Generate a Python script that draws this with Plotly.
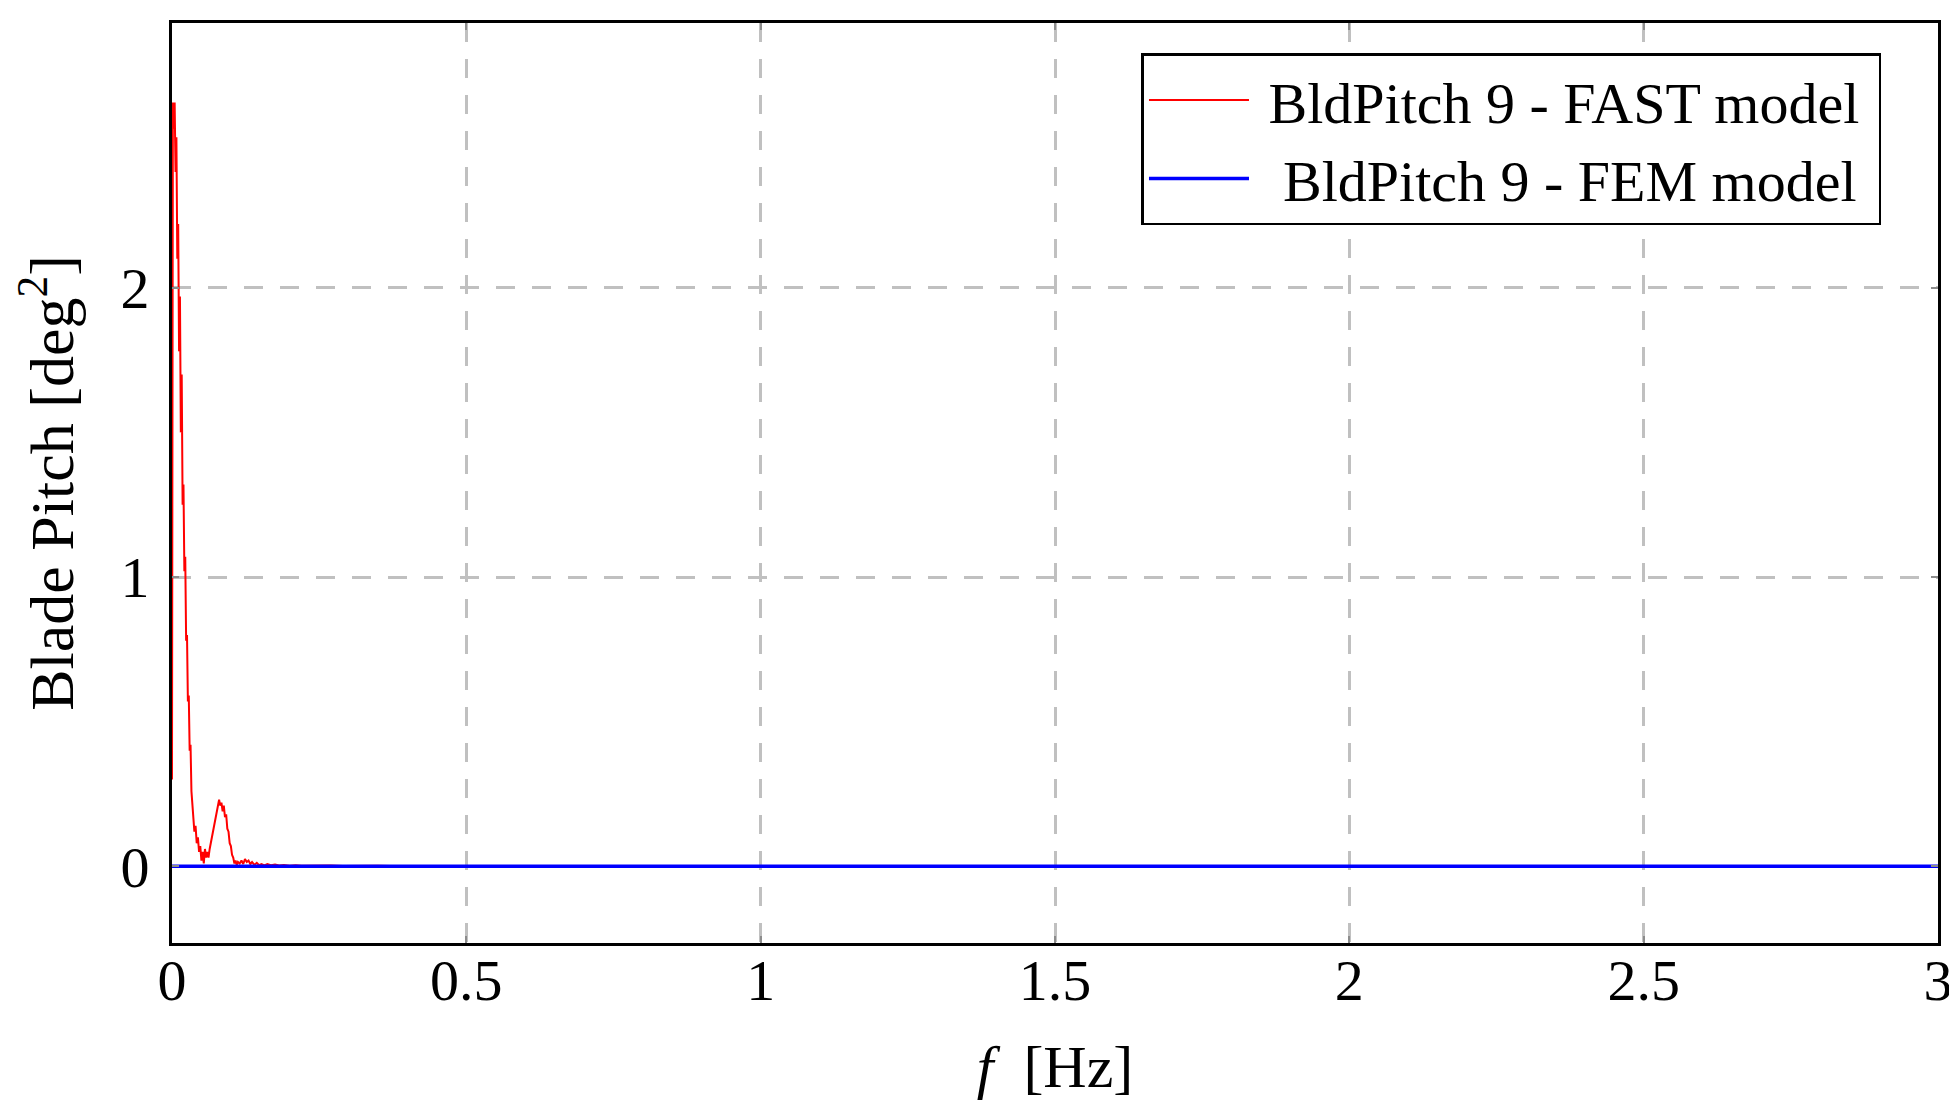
import plotly.graph_objects as go

# FAST model PSD of blade pitch
fast_f = [0.000, 0.0015, 0.003, 0.0045, 0.006, 0.0075, 0.009, 0.0105, 0.012, 0.0135,
          0.015, 0.0165, 0.018, 0.0195, 0.021, 0.0225, 0.024, 0.0255, 0.027, 0.0285,
          0.030, 0.0315, 0.033, 0.0345, 0.036, 0.038, 0.040, 0.042, 0.044, 0.046,
          0.048, 0.050, 0.052, 0.054, 0.056, 0.058, 0.060, 0.062, 0.064, 0.066,
          0.068, 0.070, 0.072, 0.074, 0.076, 0.078, 0.080, 0.082, 0.084, 0.086,
          0.088, 0.090, 0.092, 0.094, 0.096, 0.098, 0.100, 0.102, 0.104, 0.106,
          0.108, 0.110, 0.112, 0.115, 0.118, 0.121, 0.124, 0.127, 0.130, 0.133,
          0.136, 0.140, 0.144, 0.148, 0.152, 0.157, 0.162, 0.168, 0.175, 0.182,
          0.190, 0.200, 0.210, 0.220, 0.235, 0.250, 0.270, 0.290, 0.310, 0.330,
          0.350, 0.370, 0.390, 0.410, 0.420]
fast_psd = [0.30, 2.64, 2.55, 2.64, 2.40, 2.52, 2.10, 2.22, 1.78, 1.97,
            1.50, 1.70, 1.25, 1.32, 1.02, 1.07, 0.78, 0.80, 0.57, 0.59,
            0.40, 0.42, 0.26, 0.22, 0.18, 0.12, 0.14, 0.08, 0.10, 0.05,
            0.07, 0.02, 0.05, 0.01, 0.06, 0.03, 0.05, 0.03, 0.06, 0.08,
            0.11, 0.12, 0.15, 0.16, 0.19, 0.20, 0.23, 0.21, 0.22, 0.19,
            0.21, 0.17, 0.18, 0.13, 0.12, 0.08, 0.07, 0.04, 0.03, 0.01,
            0.02, 0.005, 0.015, 0.01, 0.02, 0.008, 0.025, 0.015, 0.02, 0.008,
            0.015, 0.005, 0.012, 0.004, 0.008, 0.003, 0.008, 0.004, 0.006, 0.003,
            0.005, 0.002, 0.004, 0.002, 0.003, 0.002, 0.003, 0.001, 0.002, 0.001,
            0.002, 0.001, 0.002, 0.001, 0.0015]

# FEM model stays flat at zero over the whole range
fem_f = [0.0, 3.0]
fem_psd = [0.0, 0.0]

x_ticks = [0, 0.5, 1, 1.5, 2, 2.5, 3]
x_labels = ["0", "0.5", "1", "1.5", "2", "2.5", "3"]
y_ticks = [0, 1, 2]
y_labels = ["0", "1", "2"]

FONT = "Liberation Serif, Times New Roman, Tinos, DejaVu Serif, serif"
GRID = dict(showgrid=True, gridcolor="#c0c0c0", gridwidth=3, griddash="19px,17px")
AXIS = dict(showline=True, linecolor="black", linewidth=3, mirror="ticks",
            ticks="inside", ticklen=7, tickcolor="#8c8c8c", tickwidth=1.5,
            zeroline=False, automargin=False, ticklabeloverflow="allow",
            tickfont=dict(size=58))

fig = go.Figure()
fig.add_trace(go.Scatter(x=fast_f, y=fast_psd, mode="lines",
                         name="\u00a0BldPitch 9 - FAST model\u00a0",
                         line=dict(color="#ff0000", width=2)))
fig.add_trace(go.Scatter(x=fem_f, y=fem_psd, mode="lines",
                         name="\u00a0\u00a0BldPitch 9 - FEM model\u00a0",
                         line=dict(color="#0000ff", width=3.5)))

# page body has an 8px margin, so the figure is shifted by 8px
fig.update_layout(
    width=1949, height=1101,
    paper_bgcolor="white", plot_bgcolor="white",
    font=dict(family=FONT, size=58, color="black"),
    margin=dict(l=164, r=19, t=15, b=166, autoexpand=False),
    showlegend=True,
    legend=dict(
        x=0.968, y=0.967, xanchor="right", yanchor="top",
        bgcolor="white", bordercolor="black", borderwidth=2.5,
        font=dict(family=FONT, size=58),
        itemwidth=100, tracegroupgap=0,
    ),
)

fig.update_xaxes(
    range=[0, 3],
    tickvals=x_ticks, ticktext=x_labels,
    **GRID, **AXIS,
    ticklabelstandoff=-16,
    title=dict(text="<i>f</i>  [Hz]", standoff=34, font=dict(size=60)),
)
fig.update_yaxes(
    range=[-0.265, 2.915],
    tickvals=y_ticks, ticktext=y_labels,
    **GRID, **AXIS,
    ticklabelstandoff=8,
    title=dict(text="Blade Pitch [deg<sup>2</sup>]", standoff=38, font=dict(size=62)),
)

fig.write_html("out.html")
